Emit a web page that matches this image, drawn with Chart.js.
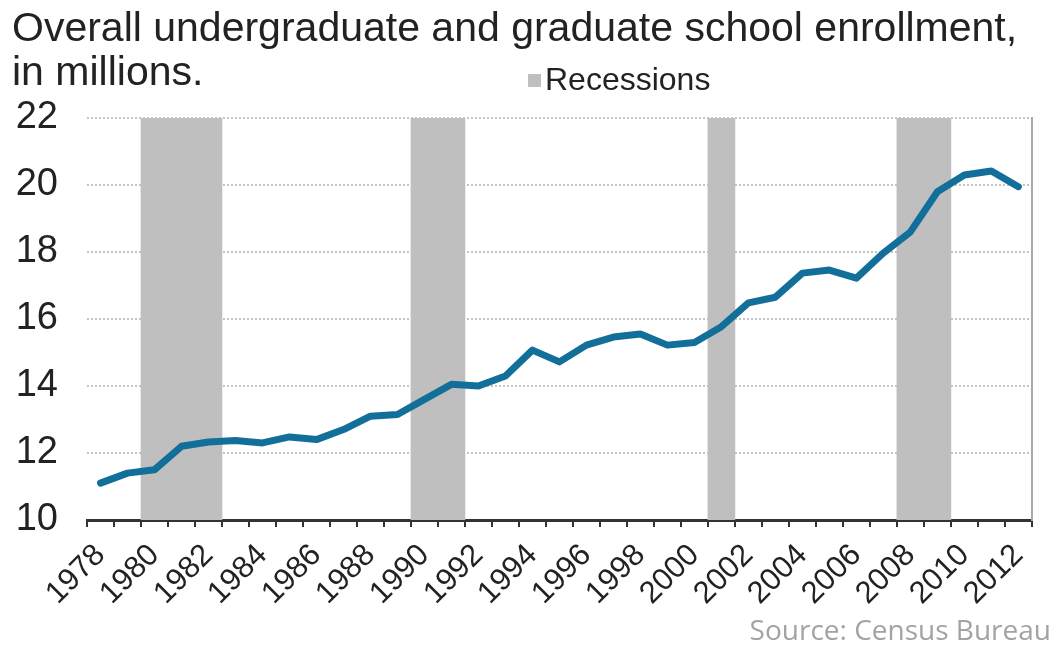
<!DOCTYPE html>
<html>
<head>
<meta charset="utf-8">
<title>Enrollment</title>
<script src="https://cdn.jsdelivr.net/npm/chart.js@4.4.1/dist/chart.umd.min.js"></script>
<style>
html,body{margin:0;padding:0;background:#fff;}
#wrap{position:relative;width:1055px;height:648px;overflow:hidden;font-family:"Liberation Sans",Arial,sans-serif;}
#title{position:absolute;left:12px;top:5px;font-size:41px;line-height:44px;color:#222;white-space:nowrap;}
#legend{position:absolute;left:528px;top:62px;font-size:32px;line-height:35px;color:#222;white-space:nowrap;}
#legend i{display:inline-block;width:13px;height:13px;background:#bfbfbf;margin-right:4px;vertical-align:3px;}
#source{position:absolute;right:4px;top:610px;font-family:"Open Sans",sans-serif;font-size:28px;color:#a3a3a3;white-space:nowrap;}
canvas{position:absolute;left:0;top:0;}
</style>
</head>
<body>
<div id="wrap">
  <canvas id="chart" width="1055" height="648"></canvas>
  <div id="title">Overall undergraduate and graduate school enrollment,<br>in millions.</div>
  <div id="legend"><i></i>Recessions</div>
  <div id="source">Source: Census Bureau</div>
</div>
<script>
// enrollment, millions
const years = [1978,1979,1980,1981,1982,1983,1984,1985,1986,1987,1988,1989,1990,1991,1992,1993,1994,
  1995,1996,1997,1998,1999,2000,2001,2002,2003,2004,2005,2006,2007,2008,2009,2010,2011,2012];
const enrollment = [11.1,11.4,11.5,12.2,12.33,12.37,12.3,12.48,12.4,12.7,13.1,13.15,13.6,14.05,14.0,14.3,15.07,
  14.72,15.22,15.46,15.55,15.22,15.3,15.77,16.48,16.65,17.37,17.46,17.22,17.97,18.6,19.8,20.3,20.42,19.95];
const recessionYears = [1980,1981,1982,1990,1991,2001,2008,2009];
const yTicks = [10,12,14,16,18,20,22];

const FONT = '"Liberation Sans", Arial, sans-serif';
const recessionBars = years.map(y => recessionYears.includes(y) ? yTicks[yTicks.length-1] : null);

new Chart(document.getElementById('chart'), {
  data: {
    labels: years,
    datasets: [
      {type:'line', label:'Enrollment', data:enrollment, borderColor:'#126f9a', borderWidth:7,
       pointRadius:0, tension:0, borderJoinStyle:'round', borderCapStyle:'round', order:1},
      {type:'bar', label:'Recessions', data:recessionBars, backgroundColor:'#bfbfbf',
       barPercentage:1, categoryPercentage:1, order:2}
    ]
  },
  options: {
    responsive:false, animation:false,
    layout:{padding:{top:118, right:23, left:0, bottom:0}},
    plugins:{legend:{display:false}, tooltip:{enabled:false}},
    scales:{
      x:{
        grid:{offset:true, drawOnChartArea:false, color:'#333', lineWidth:2, tickLength:7},
        border:{color:'#333', width:3},
        ticks:{autoSkip:false, minRotation:45, maxRotation:45, padding:10, color:'#222',
          font:{family:FONT, size:31},
          callback:(v,i) => years[i] % 2 === 0 ? String(years[i]) : ''},
        afterFit:s => { s.height = 128; }
      },
      y:{
        min:10, max:22,
        afterBuildTicks:s => { s.ticks = yTicks.map(v => ({value:v})); },
        grid:{color:'#c4c4c4', lineWidth:2, drawTicks:false},
        border:{display:false, dash:[2,2]},
        ticks:{padding:29, color:'#222', font:{family:FONT, size:38}},
        afterFit:s => { s.width = 87; }
      },
      y2:{
        position:'right', min:10, max:22,
        grid:{display:false}, ticks:{display:false},
        border:{display:true, color:'#a8a8a8', width:2},
        afterFit:s => { s.width = 0; }
      }
    }
  }
});
</script>
</body>
</html>
